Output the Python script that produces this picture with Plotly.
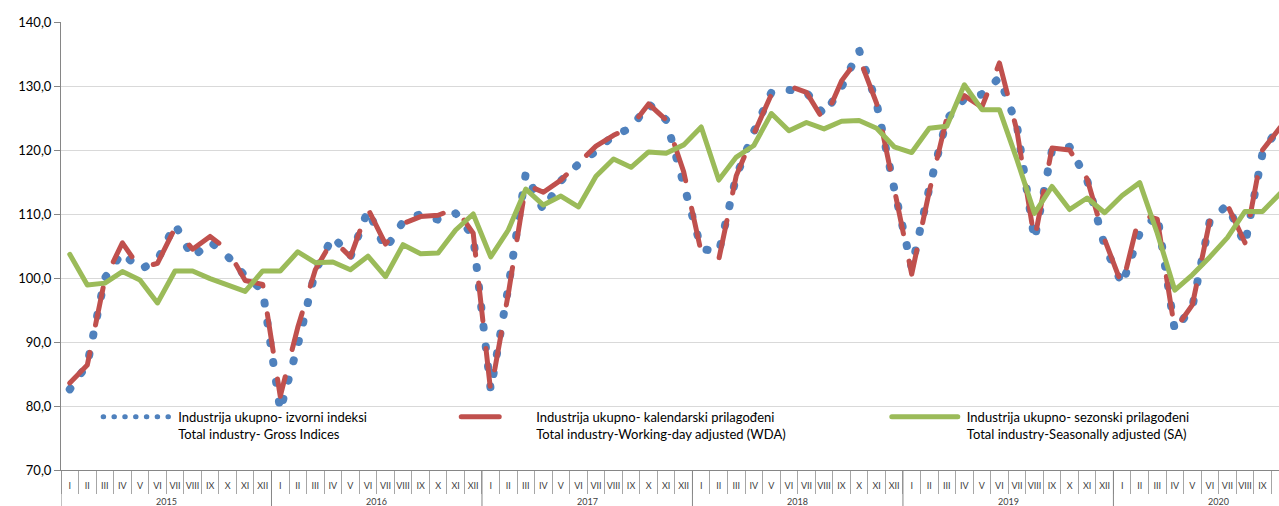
import plotly.graph_objects as go

months = ['I', 'II', 'III', 'IV', 'V', 'VI', 'VII', 'VIII', 'IX', 'X', 'XI', 'XII']
years = ['2015', '2016', '2017', '2018', '2019', '2020']

# Industrija ukupno - izvorni indeksi (gross indices), Jan 2015 - Oct 2020
gross = [82.6, 86.5, 100.0, 104.0, 101.3, 102.8, 108.4, 103.2, 105.7, 103.4, 100.3, 98.1,
         79.3, 89.5, 101.1, 106.5, 103.3, 110.6, 104.5, 108.8, 110.0, 109.1, 110.1, 106.5,
         82.5, 98.5, 116.4, 110.6, 115.2, 117.8, 119.8, 122.3, 123.4, 127.2, 124.7, 115.0,
         104.6, 104.0, 115.9, 122.9, 129.0, 129.4, 129.0, 125.5, 129.8, 135.6, 127.3, 114.0,
         101.6, 114.0, 124.8, 128.0, 128.7, 131.3, 123.8, 106.0, 120.0, 120.5, 115.3, 105.0,
         99.0, 107.0, 109.9, 91.8, 95.5, 109.0, 111.4, 105.2, 119.5, 124.0]

# Industrija ukupno - kalendarski prilagodjeni (working-day adjusted)
wda = [83.6, 86.4, 99.8, 105.5, 101.5, 102.3, 107.8, 104.5, 106.5, 104.4, 99.6, 99.0,
       81.5, 92.3, 101.3, 106.0, 103.3, 110.8, 105.3, 108.5, 109.6, 109.8, 110.9, 107.0,
       82.2, 97.5, 114.6, 113.4, 115.3, 118.0, 120.6, 122.3, 123.6, 127.2, 124.7, 116.6,
       104.0, 102.9, 116.0, 122.5, 128.7, 130.0, 129.0, 124.5, 130.8, 134.5, 127.3, 114.0,
       100.6, 113.5, 125.0, 128.5, 126.7, 133.6, 123.0, 106.0, 120.3, 120.0, 115.5, 106.0,
       98.8, 110.0, 109.2, 91.9, 95.8, 109.0, 111.4, 105.5, 120.0, 123.5]

# Industrija ukupno - sezonski prilagodjeni (seasonally adjusted)
sa = [103.7, 98.9, 99.2, 101.0, 99.7, 96.1, 101.1, 101.1, 99.9, 98.8, 97.9, 101.1,
      101.1, 104.1, 102.4, 102.5, 101.3, 103.4, 100.2, 105.2, 103.8, 103.9, 107.5, 110.0,
      103.3, 107.5, 113.9, 111.4, 112.8, 111.1, 115.9, 118.6, 117.3, 119.7, 119.5, 120.8,
      123.6, 115.3, 118.9, 120.7, 125.7, 123.0, 124.3, 123.3, 124.5, 124.6, 123.4, 120.5,
      119.6, 123.4, 123.7, 130.2, 126.3, 126.3, 118.5, 110.1, 114.3, 110.7, 112.5, 110.2,
      112.9, 114.9, 107.0, 98.1, 100.5, 103.3, 106.3, 110.4, 110.4, 113.2]

names = [
    'Industrija ukupno- izvorni indeksi<br>Total industry- Gross Indices',
    'Industrija ukupno- kalendarski prilagođeni<br>Total industry-Working-day adjusted (WDA)',
    'Industrija ukupno- sezonski prilagođeni<br>Total industry-Seasonally adjusted (SA)',
]

# one category per month: "I 2015", "II 2015", ...
x_cat = [m + ' ' + y for y in years for m in months]
x_lab = [m for y in years for m in months]
n_cat = len(x_cat)
n_m = len(months)


def pad(v):
    return v + [None] * (n_cat - len(v))


BLUE = '#4F81BD'
RED = '#C0504D'
GREEN = '#9BBB59'
AXIS = '#868686'

fig = go.Figure()
fig.add_trace(go.Scatter(x=x_cat, y=pad(gross), mode='lines', name=names[0],
                         line=dict(color=BLUE, width=8, dash='1px,19px'), legend='legend'))
fig.add_trace(go.Scatter(x=x_cat, y=pad(wda), mode='lines', name=names[1],
                         line=dict(color=RED, width=5, dash='38px,28px'), legend='legend2'))
fig.add_trace(go.Scatter(x=x_cat, y=pad(sa), mode='lines', name=names[2],
                         line=dict(color=GREEN, width=5), legend='legend3'))

leg_common = dict(orientation='v', yanchor='top', xanchor='left', valign='top',
                  bgcolor='rgba(0,0,0,0)', itemwidth=70,
                  font=dict(family='Lato, sans-serif', size=13, color='#000000'))

# year labels and year dividers below the month labels
annotations = []
shapes = []
for k, yr in enumerate(years):
    annotations.append(dict(x=k * n_m + (n_m - 1) / 2, xref='x', y=-0.0695, yref='paper',
                            text=yr, showarrow=False, yanchor='middle',
                            font=dict(size=9, color='#404040', family='Lato, sans-serif')))
for k in range(len(years) + 1):
    shapes.append(dict(type='line', xref='x', yref='paper', x0=k * n_m - 0.5, x1=k * n_m - 0.5,
                       y0=0, y1=-0.09, line=dict(color=AXIS, width=1), layer='above'))

fig.update_layout(
    template='none',
    width=1279, height=506,
    margin=dict(l=61, r=0, t=22, b=36, pad=0),
    paper_bgcolor='white', plot_bgcolor='white',
    separators=', ',
    font=dict(family='Lato, sans-serif', color='#000000'),
    showlegend=True,
    legend=dict(x=0.0305, y=0.152, **leg_common),
    legend2=dict(x=0.3245, y=0.152, **leg_common),
    legend3=dict(x=0.678, y=0.152, **leg_common),
    annotations=annotations,
    shapes=shapes,
    xaxis=dict(type='category', range=[-0.5, 68.94], automargin=False,
               tickmode='array', tickvals=x_cat, ticktext=x_lab,
               showline=True, linecolor=AXIS, linewidth=1, tickangle=0,
               ticks='outside', tickson='boundaries', ticklen=23, tickcolor='#a6a6a6', tickwidth=1,
               ticklabelstandoff=7,
               tickfont=dict(size=9, color='#404040'), showgrid=False, zeroline=False),
    yaxis=dict(range=[70, 140], tick0=70, dtick=10, tickformat='.1f', automargin=False,
               showgrid=True, gridcolor='#d9d9d9', gridwidth=1,
               showline=True, linecolor=AXIS, linewidth=1,
               ticks='outside', ticklen=6, tickcolor=AXIS,
               tickfont=dict(size=13, color='#000000'), zeroline=False),
)

post = """
document.body.style.margin = '0';
document.body.style.padding = '0';
var gd = document.getElementById('{plot_id}');
function fixLines(){
  gd.querySelectorAll('.scatterlayer path.js-line').forEach(function(p){
    p.style.strokeLinecap = 'round'; p.style.strokeLinejoin = 'round';
  });
  var legs = gd.querySelectorAll('.legendlines path');
  legs.forEach(function(p, i){
    p.setAttribute('d', 'M5,0h66');
    p.style.strokeLinecap = 'round';
    if (i === 0) { p.style.strokeWidth = '5px'; p.style.strokeDasharray = '0.5px,10.3px'; }
  });
}
fixLines();
gd.on('plotly_afterplot', fixLines);
"""

fig.write_html("out.html", post_script=post, config={'displayModeBar': False})
